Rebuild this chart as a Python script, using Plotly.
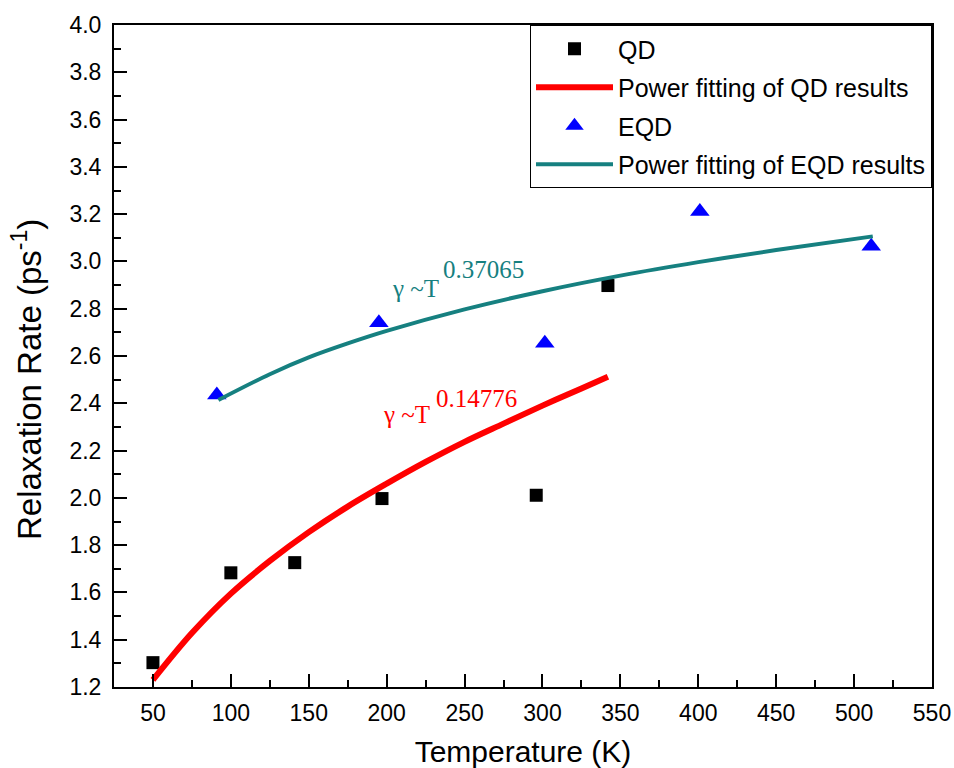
import plotly.graph_objects as go

# ---- data ----
qd_T = [50, 100, 141, 197, 296, 342]
qd_rate = [1.303, 1.683, 1.726, 1.997, 2.011, 2.898]

eqd_T = [91, 195, 301.5, 401, 511]
eqd_rate = [2.435, 2.741, 2.654, 3.211, 3.064]

qd_fit_T = [50, 75, 100, 125, 150, 175, 200, 225, 250, 275, 300, 325, 342]
qd_fit_rate = [1.230, 1.428, 1.595, 1.733, 1.855, 1.963, 2.060, 2.152, 2.237, 2.314, 2.390, 2.463, 2.512]

eqd_fit_T = [92, 125, 150, 175, 200, 250, 300, 350, 400, 450, 512]
eqd_fit_rate = [2.414, 2.523, 2.594, 2.653, 2.706, 2.797, 2.874, 2.940, 2.997, 3.048, 3.106]

x_ticks = [50, 100, 150, 200, 250, 300, 350, 400, 450, 500, 550]
y_ticks = [1.2, 1.4, 1.6, 1.8, 2.0, 2.2, 2.4, 2.6, 2.8, 3.0, 3.2, 3.4, 3.6, 3.8, 4.0]

TEAL = "#168080"
SANS = "Arial, Liberation Sans, sans-serif"
SERIF = "Times New Roman, Liberation Serif, serif"

fig = go.Figure()
fig.add_trace(go.Scatter(x=qd_T, y=qd_rate, mode="markers", name="QD",
                         legendgroup="a",
                         marker=dict(symbol="square", size=13, color="black")))
fig.add_trace(go.Scatter(x=qd_fit_T, y=qd_fit_rate, mode="lines",
                         name="Power fitting of QD results", legendgroup="b",
                         line=dict(color="#ff0000", width=6, shape="spline")))
fig.add_trace(go.Scatter(x=eqd_T, y=eqd_rate, mode="markers", name="EQD",
                         legendgroup="c",
                         marker=dict(symbol="triangle-up", size=17, color="#0000ff")))
fig.add_trace(go.Scatter(x=eqd_fit_T, y=eqd_fit_rate, mode="lines",
                         name="Power fitting of EQD results", legendgroup="d",
                         line=dict(color=TEAL, width=4, shape="spline")))

def ann(x, y, text, color, size):
    fig.add_annotation(x=x, y=y, xref="x", yref="y", text=text, showarrow=False,
                       xanchor="left", yanchor="middle",
                       font=dict(family=SERIF, size=size, color=color))

ann(196.4, 2.352, "γ ~T", "#ff0000", 25)
ann(230.5, 2.422, "0.14776", "#ff0000", 25)
ann(202.1, 2.884, "γ ~T", TEAL, 25)
ann(234.8, 2.964, "0.37065", TEAL, 25)

# y-axis title (placed as rotated text so it can sit slightly below the axis centre)
fig.add_annotation(text="Relaxation Rate (ps<sup>-1</sup>)", xref="paper", yref="paper",
                   x=0, y=0.4637, xanchor="center", yanchor="middle", xshift=-87,
                   textangle=-90, showarrow=False,
                   font=dict(family=SANS, size=33, color="black"))

axis_common = dict(
    showgrid=False, zeroline=False, showline=True, linecolor="black", linewidth=2,
    mirror=True, ticks="inside", ticklen=13, tickwidth=2, tickcolor="black",
    tickfont=dict(family=SANS, size=23, color="black"), automargin=False,
)

fig.update_xaxes(
    range=[25, 550], tickvals=x_ticks, ticktext=[str(v) for v in x_ticks],
    minor=dict(ticks="inside", dtick=25, tick0=25, ticklen=7, tickwidth=2, tickcolor="black"),
    title=dict(text="Temperature (K)", font=dict(family=SANS, size=30, color="black"), standoff=19),
    ticklabelstandoff=4,
    **axis_common,
)
fig.update_yaxes(
    range=[1.2, 4.0], tickvals=y_ticks, ticktext=[f"{v:.1f}" for v in y_ticks],
    minor=dict(ticks="inside", dtick=0.1, tick0=1.2, ticklen=7, tickwidth=2, tickcolor="black"),
    ticklabelstandoff=6,
    **axis_common,
)

fig.update_layout(
    width=954, height=768,
    margin=dict(l=114, r=22, t=25, b=81),
    plot_bgcolor="white", paper_bgcolor="white",
    showlegend=True,
    legend=dict(x=1, y=1, xanchor="right", yanchor="top",
                bgcolor="white", bordercolor="black", borderwidth=1,
                font=dict(family=SANS, size=25, color="black"),
                tracegroupgap=3, itemwidth=77),
)

fig.write_html("out.html")
